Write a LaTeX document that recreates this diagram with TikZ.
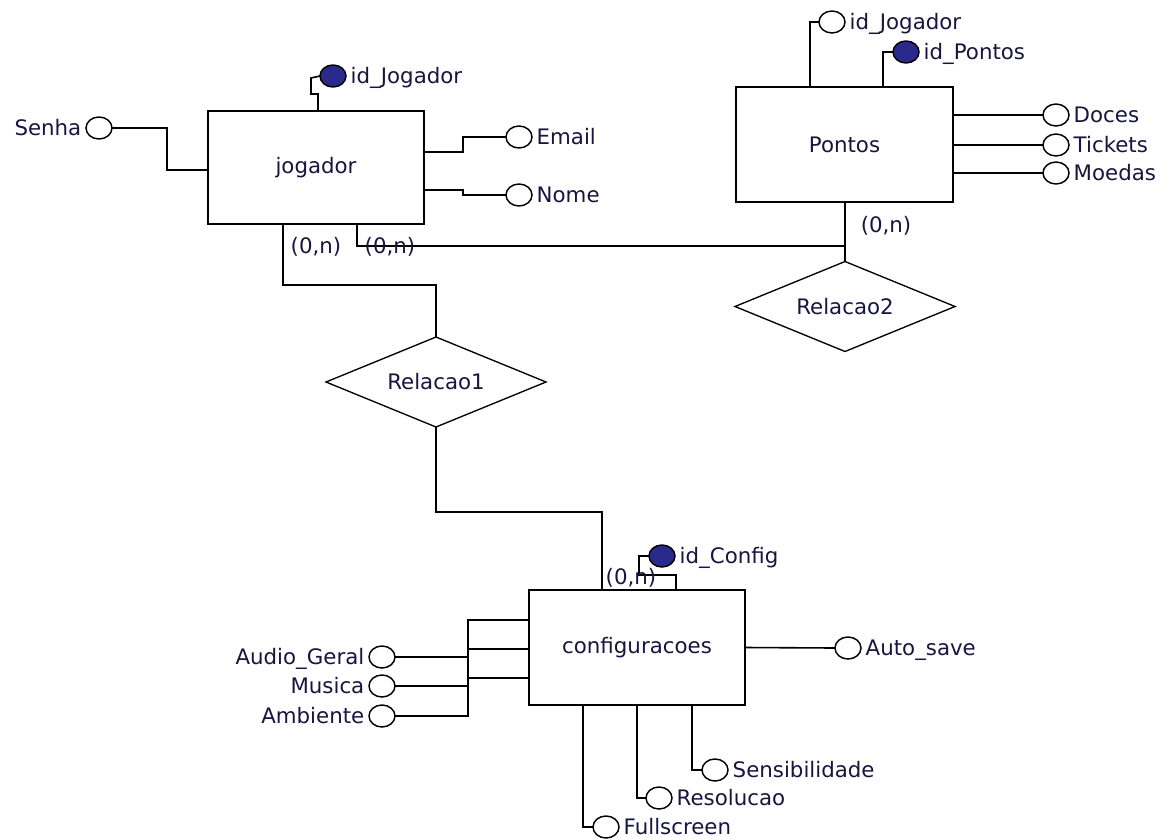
\documentclass[tikz,border=0pt]{standalone}
\usepackage{fontspec}
\setmainfont{DejaVu Sans}
\usetikzlibrary{shapes.geometric}
\definecolor{txt}{RGB}{22,22,62}
\definecolor{keyfill}{RGB}{42,42,140}
\begin{document}
\begin{tikzpicture}[x=0.75pt, y=-0.75pt,
  font=\fontsize{16}{19}\selectfont, text=txt,
  entity/.style={draw, line width=1.6pt, fill=white, inner sep=0pt, outer sep=0pt},
  rel/.style={diamond, draw, line width=1pt, fill=white, inner sep=0pt, outer sep=0pt, shape aspect=2.44, minimum width=165pt, minimum height=67.5pt},
  attr/.style={ellipse, draw, line width=1.1pt, fill=white, minimum width=19.5pt, minimum height=16.5pt, inner sep=0pt, outer sep=0pt},
  keyattr/.style={attr, fill=keyfill},
  conn/.style={line width=1.2pt},
  card/.style={inner sep=0pt},
  label distance=0pt,
  every label/.style={text=txt, text height=0.73em, text depth=0pt, yshift=-2pt}
]
\useasboundingbox (0,0) rectangle (1167,839);

% entities
\node[entity, minimum width=162pt, minimum height=84.75pt] (jog) at (316,167.5) {jogador};
\node[entity, minimum width=162.75pt, minimum height=86.25pt] (pon) at (844.5,144.5) {Pontos};
\node[entity, minimum width=162pt, minimum height=86.25pt] (conf) at (637,647.5) {configuracoes};

% relationships
\node[rel] (rel1) at (436,382) {Relacao1};
\node[rel] (rel2) at (845,306.5) {Relacao2};

% jogador attributes
\node[attr, label=left:Senha] (sen) at (99,128) {};
\node[attr, label=right:Email] (em) at (519,137) {};
\node[attr, label=right:Nome] (nome) at (519,195) {};
\node[keyattr, label=right:id\_Jogador] (jk) at (333,76) {};

% Pontos attributes
\node[attr, label=right:id\_Jogador] (pj) at (832,22) {};
\node[keyattr, label=right:id\_Pontos] (pk) at (906,52) {};
\node[attr, label=right:Doces] (doc) at (1056,115) {};
\node[attr, label=right:Tickets] (tic) at (1056,145) {};
\node[attr, label=right:Moedas] (moe) at (1056,173) {};

% configuracoes attributes
\node[keyattr, label=right:id\_Config] (ck) at (662,556) {};
\node[attr, label=right:Auto\_save] (as) at (848,648) {};
\node[attr, label=left:Audio\_Geral] (aud) at (382,657) {};
\node[attr, label=left:Musica] (mus) at (382,686) {};
\node[attr, label=left:Ambiente] (amb) at (382,716) {};
\node[attr, label=right:Fullscreen] (full) at (606,827) {};
\node[attr, label=right:Resolucao] (res) at (659,798) {};
\node[attr, label=right:Sensibilidade] (sens) at (715,770) {};

% connectors jogador
\draw[conn] (sen.east) -- (167,128) -- (167,170) -- (jog.west |- 0,170);
\draw[conn] (jog.north -| 318,0) -- (318,94) -- (311,94) -- (311,78) -- (jk.west);
\draw[conn] (jog.east |- 0,152) -- (463,152) -- (463,137) -- (em.west);
\draw[conn] (jog.east |- 0,190) -- (463,190) -- (463,195) -- (nome.west);

% connectors Pontos
\draw[conn] (pon.north -| 810,0) -- (810,22) -- (pj.west);
\draw[conn] (pon.north -| 883,0) -- (883,52) -- (pk.west);
\draw[conn] (pon.east |- doc) -- (doc.west);
\draw[conn] (pon.east |- tic) -- (tic.west);
\draw[conn] (pon.east |- moe) -- (moe.west);

% relationships connectors
\draw[conn] (jog.south -| 283,0) -- (283,285) -- (rel1.north |- 0,285) -- (rel1.north);
\draw[conn] (jog.south -| 357,0) -- (357,246) -- (rel2.north |- 0,246);
\draw[conn] (pon.south -| rel2.north) -- (rel2.north);
\draw[conn] (rel1.south) -- (436,512) -- (602,512) -- (conf.north -| 602,0);

% connectors configuracoes
\draw[conn] (conf.north -| 676,0) -- (676,575) -- (639,575) -- (639,556) -- (ck.west);
\draw[conn] (conf.east) -- (as.west);
\draw[conn] (conf.west |- 0,620) -- (468,620) -- (468,716) -- (amb.east);
\draw[conn] (conf.west |- 0,649) -- (468,649);
\draw[conn] (conf.west |- 0,678) -- (468,678);
\draw[conn] (aud.east) -- (468,657);
\draw[conn] (mus.east) -- (468,686);
\draw[conn] (conf.south -| 583,0) |- (full.west);
\draw[conn] (conf.south -| 637,0) |- (res.west);
\draw[conn] (conf.south -| 692,0) |- (sens.west);

% cardinalities
\node[card] (c1) at (316,247) {(0,n)};
\node[card] (c2) at (390,247) {(0,n)};
\node[card] (c3) at (886,226) {(0,n)};
\node[card] (c4) at (631,578) {(0,n)};
\end{tikzpicture}
\end{document}
